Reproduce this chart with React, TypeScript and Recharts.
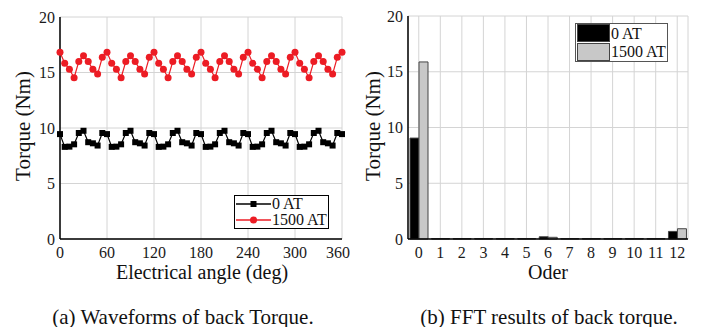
import React from "react";
import {
  LineChart, Line, BarChart, Bar, XAxis, YAxis, CartesianGrid,
} from "recharts";

// electrical angle, 6 deg step
const angles = [
  0, 6, 12, 18, 24, 30, 36, 42, 48, 54,
  60, 66, 72, 78, 84, 90, 96, 102, 108, 114,
  120, 126, 132, 138, 144, 150, 156, 162, 168, 174,
  180, 186, 192, 198, 204, 210, 216, 222, 228, 234,
  240, 246, 252, 258, 264, 270, 276, 282, 288, 294,
  300, 306, 312, 318, 324, 330, 336, 342, 348, 354,
  360,
];

const torque0AT = [
  9.45, 8.3, 8.32, 8.53, 9.55, 9.75, 8.72, 8.62, 8.42, 9.55,
  9.45, 8.3, 8.32, 8.53, 9.55, 9.75, 8.72, 8.62, 8.42, 9.55,
  9.45, 8.3, 8.32, 8.53, 9.55, 9.75, 8.72, 8.62, 8.42, 9.55,
  9.45, 8.3, 8.32, 8.53, 9.55, 9.75, 8.72, 8.62, 8.42, 9.55,
  9.45, 8.3, 8.32, 8.53, 9.55, 9.75, 8.72, 8.62, 8.42, 9.55,
  9.45, 8.3, 8.32, 8.53, 9.55, 9.75, 8.72, 8.62, 8.42, 9.55,
  9.45,
];

const torque1500AT = [
  16.82, 15.83, 15.29, 14.53, 15.98, 16.52, 15.98, 15.29, 14.86, 16.37,
  16.82, 15.83, 15.29, 14.53, 15.98, 16.52, 15.98, 15.29, 14.86, 16.37,
  16.82, 15.83, 15.29, 14.53, 15.98, 16.52, 15.98, 15.29, 14.86, 16.37,
  16.82, 15.83, 15.29, 14.53, 15.98, 16.52, 15.98, 15.29, 14.86, 16.37,
  16.82, 15.83, 15.29, 14.53, 15.98, 16.52, 15.98, 15.29, 14.86, 16.37,
  16.82, 15.83, 15.29, 14.53, 15.98, 16.52, 15.98, 15.29, 14.86, 16.37,
  16.82,
];

const angleTicks = [0, 60, 120, 180, 240, 300, 360];
const torqueTicks = [0, 5, 10, 15, 20];

const orders = ["0", "1", "2", "3", "4", "5", "6", "7", "8", "9", "10", "11", "12"];
const fft0AT = [9.05, 0.03, 0.03, 0.03, 0.03, 0.03, 0.2, 0.03, 0.03, 0.03, 0.03, 0.03, 0.68];
const fft1500AT = [15.88, 0.04, 0.04, 0.04, 0.04, 0.04, 0.15, 0.04, 0.04, 0.04, 0.04, 0.04, 0.92];

const waveData = angles.map((a, i) => ({ angle: a, t0: torque0AT[i], t1500: torque1500AT[i] }));
const fftData = orders.map((o, i) => ({ order: o, f0: fft0AT[i], f1500: fft1500AT[i] }));

const FONT = "'Liberation Serif', 'Times New Roman', serif";
const RED = "#ec1c24";
const GRID = "#d4d4d4";
const tickStyle = { fontSize: 16, fill: "#1a1a1a", fontFamily: FONT };

function SquareDot(props: any) {
  const { cx, cy, index } = props;
  if (cx == null || cy == null) return null;
  return <rect key={`sq-${index}`} x={cx - 3} y={cy - 3} width={6} height={6} fill="#000" />;
}

function WaveLegend() {
  const row = (color: string, label: string, square: boolean) => (
    <div style={{ display: "flex", alignItems: "center", height: 16 }}>
      <svg width={35} height={12}>
        <line x1={0} y1={6} x2={35} y2={6} stroke={color} strokeWidth={1.5} />
        {square ? (
          <rect x={14.5} y={3} width={6} height={6} fill={color} />
        ) : (
          <circle cx={17.5} cy={6} r={3.5} fill={color} />
        )}
      </svg>
      <span style={{ marginLeft: 1 }}>{label}</span>
    </div>
  );
  return (
    <div style={{
      position: "absolute", left: 234, top: 195, whiteSpace: "nowrap",
      border: "1px solid #000", background: "#fff", fontFamily: FONT, fontSize: 16,
      color: "#111", padding: "0 1px 0 1px", lineHeight: "16px",
    }}>
      {row("#000", "0 AT", true)}
      {row(RED, "1500 AT", false)}
    </div>
  );
}

function FftLegend() {
  const row = (fill: string, label: string) => (
    <div style={{ display: "flex", alignItems: "center", height: 18.5 }}>
      <span style={{
        display: "inline-block", width: 33, height: 18, background: fill,
        border: "1px solid #444", boxSizing: "border-box",
      }} />
      <span style={{ marginLeft: 1 }}>{label}</span>
    </div>
  );
  return (
    <div style={{
      position: "absolute", left: 575, top: 23, whiteSpace: "nowrap",
      border: "1.5px solid #555", background: "#fff", fontFamily: FONT, fontSize: 16,
      color: "#111", padding: "0 1px 0 1px", lineHeight: "17px",
    }}>
      {row("#000", "0 AT")}
      {row("#c8c8c8", "1500 AT")}
    </div>
  );
}

const textStyle: React.CSSProperties = {
  position: "absolute", fontFamily: FONT, color: "#111", whiteSpace: "nowrap",
  transform: "translate(-50%, -50%)",
};

const frameLine = { stroke: "#000", strokeWidth: 1.5 };

export default function App() {
  return (
    <div style={{ position: "relative", width: 701, height: 327, background: "#fff", overflow: "hidden" }}>
      <style>{`body { margin: 0; }`}</style>

      <div style={{ position: "absolute", left: 0, top: 0 }}>
        <LineChart width={350} height={290} data={waveData} margin={{ top: 17, right: 8, left: 0, bottom: 0 }}>
          <CartesianGrid stroke={GRID} strokeWidth={1} />
          <XAxis
            dataKey="angle" type="number" domain={[0, 360]} ticks={angleTicks}
            tick={tickStyle} tickLine={false} tickSize={0} tickMargin={8} height={51}
            axisLine={frameLine}
          />
          <YAxis
            type="number" domain={[0, 20]} ticks={torqueTicks} width={60}
            tick={tickStyle} tickLine={false} tickSize={0} tickMargin={5}
            axisLine={frameLine}
          />
          <XAxis xAxisId="top" orientation="top" dataKey="angle" type="number" domain={[0, 360]}
            tick={false} tickLine={false} height={0} axisLine={frameLine} />
          <YAxis yAxisId="right" orientation="right" type="number" domain={[0, 20]}
            tick={false} tickLine={false} width={0} axisLine={frameLine} />
          <Line
            dataKey="t0" name="0 AT" stroke="#000" strokeWidth={1.2}
            dot={<SquareDot />} activeDot={false} isAnimationActive={false}
          />
          <Line
            dataKey="t1500" name="1500 AT" stroke={RED} strokeWidth={1.2}
            dot={{ r: 3.5, fill: RED, stroke: RED, strokeWidth: 0 }} activeDot={false} isAnimationActive={false}
          />
        </LineChart>
      </div>
      <WaveLegend />

      <div style={{ position: "absolute", left: 350, top: 0 }}>
        <BarChart width={351} height={290} data={fftData} barCategoryGap={2} barGap={0}
          margin={{ top: 16, right: 13, left: 0, bottom: 0 }}>
          <CartesianGrid stroke={GRID} strokeWidth={1} />
          <XAxis
            dataKey="order" tick={tickStyle} tickLine={false} tickSize={0} tickMargin={8} height={51}
            axisLine={frameLine}
          />
          <YAxis
            type="number" domain={[0, 20]} ticks={torqueTicks} width={58}
            tick={tickStyle} tickLine={false} tickSize={0} tickMargin={5}
            axisLine={frameLine}
          />
          <XAxis xAxisId="top" orientation="top" dataKey="order"
            tick={false} tickLine={false} height={0} axisLine={frameLine} />
          <YAxis yAxisId="right" orientation="right" type="number" domain={[0, 20]}
            tick={false} tickLine={false} width={0} axisLine={frameLine} />
          <Bar dataKey="f0" name="0 AT" fill="#000" stroke="#444" strokeWidth={1} isAnimationActive={false} />
          <Bar dataKey="f1500" name="1500 AT" fill="#c8c8c8" stroke="#444" strokeWidth={1} isAnimationActive={false} />
        </BarChart>
      </div>
      <FftLegend />

      <div style={{ ...textStyle, left: 202, top: 272, fontSize: 20 }}>Electrical angle (deg)</div>
      <div style={{ ...textStyle, left: 23, top: 126, fontSize: 21, transform: "translate(-50%, -50%) rotate(-90deg)" }}>Torque (Nm)</div>
      <div style={{ ...textStyle, left: 548, top: 272, fontSize: 20 }}>Oder</div>
      <div style={{ ...textStyle, left: 373, top: 126, fontSize: 21, transform: "translate(-50%, -50%) rotate(-90deg)" }}>Torque (Nm)</div>
      <div style={{ ...textStyle, left: 183, top: 317, fontSize: 21 }}>(a) Waveforms of back Torque.</div>
      <div style={{ ...textStyle, left: 549, top: 317, fontSize: 21 }}>(b) FFT results of back torque.</div>
    </div>
  );
}
